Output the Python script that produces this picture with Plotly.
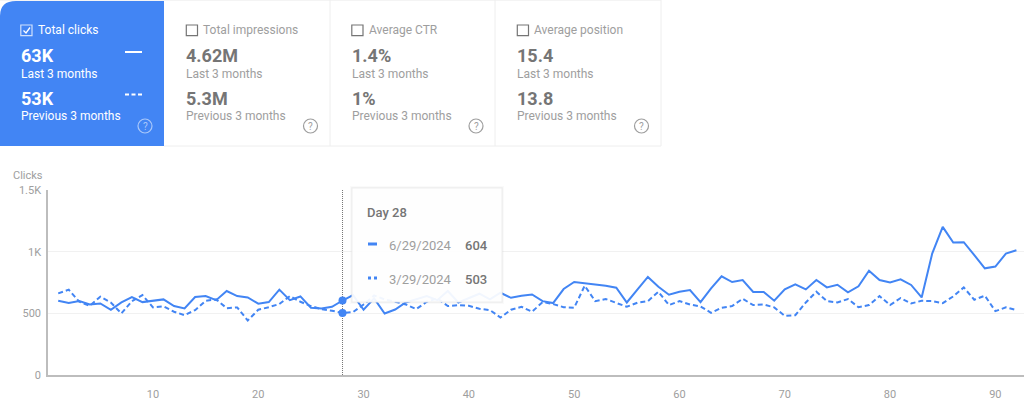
import plotly.graph_objects as go

# Day numbers on the x axis
days = list(range(1, 93))

# Clicks per day
last_3_months = [
    602, 583, 599, 572, 580, 529, 588, 632, 591, 605,
    613, 559, 540, 632, 640, 607, 681, 640, 629, 578,
    591, 692, 607, 637, 545, 540, 553, 604, 648, 529,
    621, 499, 531, 588, 615, 640, 607, 681, 588, 621,
    659, 613, 667, 626, 643, 653, 599, 583, 697, 754,
    743, 738, 724, 708, 588, 692, 795, 716, 651, 675,
    689, 591, 702, 800, 754, 770, 673, 673, 602, 694,
    735, 694, 770, 710, 732, 670, 719, 846, 770, 751,
    776, 730, 629, 984, 1201, 1074, 1077, 971, 865, 879,
    984, 1011,
]
previous_3_months = [
    662, 692, 594, 561, 635, 588, 499, 599, 648, 548,
    556, 513, 485, 526, 602, 613, 542, 548, 442, 529,
    550, 575, 640, 594, 559, 534, 521, 503, 510, 572,
    645, 613, 594, 572, 534, 594, 621, 559, 567, 561,
    537, 526, 466, 529, 553, 513, 591, 575, 550, 545,
    724, 599, 616, 586, 553, 586, 599, 675, 567, 599,
    572, 556, 504, 545, 559, 618, 567, 572, 548, 480,
    485, 588, 675, 599, 588, 616, 550, 567, 640, 567,
    624, 580, 602, 599, 583, 637, 710, 610, 643, 518,
    548, 526,
]

x_ticks = [10, 20, 30, 40, 50, 60, 70, 80, 90]
y_ticks = [0, 500, 1000, 1500]
y_tick_labels = ['0', '500', '1K', '1.5K']

# Summary cards
card_titles = ['Total clicks', 'Total impressions', 'Average CTR', 'Average position']
card_last = ['63K', '4.62M', '1.4%', '15.4']
card_previous = ['53K', '5.3M', '1%', '13.8']
card_left = [0, 165.5, 331, 496.5]
card_right = [164, 330, 495, 661]

hover_day = 28
hover_last_date = '6/29/2024'
hover_previous_date = '3/29/2024'

BLUE = '#4285f4'
GREY = '#757575'
LIGHT = '#9e9e9e'
FONT = 'Roboto'

WIDTH, HEIGHT = 1024, 406
LEFT, RIGHT, TOP, BOTTOM = 48, 0, 190, 31


# Page pixels to paper coordinates, for the cards and the tooltip
def px(x):
    return (x - LEFT) / (WIDTH - LEFT - RIGHT)


def py(y):
    return 1 - (y - TOP) / (HEIGHT - TOP - BOTTOM)


def add_text(fig, x, y, text, size=12, color=GREY, weight='normal', anchor='left'):
    fig.add_annotation(
        x=px(x), y=py(y), xref='paper', yref='paper', text=text, showarrow=False,
        xanchor=anchor, yanchor='middle',
        font=dict(family=FONT, size=size, color=color, weight=weight),
    )


def add_box(fig, x0, y0, x1, y1, fill='rgba(0,0,0,0)', line=None, width=1, layer='above'):
    fig.add_shape(
        type='rect', xref='paper', yref='paper', layer=layer,
        x0=px(x0), x1=px(x1), y0=py(y0), y1=py(y1), fillcolor=fill,
        line=dict(color=line or 'rgba(0,0,0,0)', width=width if line else 0),
    )


def add_line(fig, x0, y0, x1, y1, color, width=1.5, dash='solid'):
    fig.add_shape(
        type='line', xref='paper', yref='paper', layer='above',
        x0=px(x0), x1=px(x1), y0=py(y0), y1=py(y1),
        line=dict(color=color, width=width, dash=dash),
    )


fig = go.Figure()

fig.add_trace(go.Scatter(
    x=days, y=last_3_months, mode='lines', name='Last 3 months',
    line=dict(color=BLUE, width=2), cliponaxis=False,
))
fig.add_trace(go.Scatter(
    x=days, y=previous_3_months, mode='lines', name='Previous 3 months',
    line=dict(color=BLUE, width=2, dash='5px,3px'), cliponaxis=False,
))
# Hover dots on both lines
fig.add_trace(go.Scatter(
    x=[hover_day, hover_day],
    y=[last_3_months[hover_day - 1], previous_3_months[hover_day - 1]],
    mode='markers', marker=dict(color=BLUE, size=8), cliponaxis=False,
))

# Card strip
add_box(fig, 0, 0, 661, 146, fill='#ffffff', layer='below')
add_line(fig, 0, 0.5, 661, 0.5, '#f4f4f4', 1)
add_line(fig, 164, 146, 661, 146, '#eeeeee', 1)
for edge in card_right[1:]:
    add_line(fig, edge, 0, edge, 146, '#eeeeee', 1)
# Selected card with its rounded corner
fig.add_shape(
    type='path', xref='paper', yref='paper', layer='above', fillcolor=BLUE, line=dict(width=0),
    path=(f'M {px(0)} {py(146)} L {px(0)} {py(16)} Q {px(0)} {py(1)} {px(16)} {py(1)} '
          f'L {px(164)} {py(1)} L {px(164)} {py(146)} Z'),
)

for i, title in enumerate(card_titles):
    x0 = card_left[i]
    selected = i == 0
    main = '#ffffff' if selected else GREY
    sub = '#ffffff' if selected else LIGHT
    box_color = 'rgba(255,255,255,0.75)' if selected else GREY
    add_box(fig, x0 + 20.8, 25, x0 + 32, 35.7, line=box_color, width=1.2)
    add_text(fig, x0 + 35.5, 30, title, 12, '#ffffff' if selected else LIGHT)
    add_text(fig, x0 + 18.5, 56, card_last[i], 18, main, weight='bold')
    add_text(fig, x0 + 18.5, 73.5, 'Last 3 months', 12, sub)
    add_text(fig, x0 + 18.5, 98.5, card_previous[i], 18, main, weight='bold')
    add_text(fig, x0 + 18.5, 116, 'Previous 3 months', 12, sub)
    # Help icon
    help_color = 'rgba(255,255,255,0.55)' if selected else LIGHT
    fig.add_shape(
        type='circle', xref='paper', yref='paper', layer='above',
        x0=px(x0 + 138), x1=px(x0 + 152), y0=py(119), y1=py(133),
        line=dict(color=help_color, width=1.2),
    )
    add_text(fig, x0 + 145, 126, '?', 10, help_color, anchor='center')

# Tick inside the selected checkbox
fig.add_shape(
    type='path', xref='paper', yref='paper', layer='above', line=dict(color='#ffffff', width=1.3),
    path=f'M {px(23.5)} {py(30.5)} L {px(26)} {py(33)} L {px(30)} {py(27.5)}',
)
add_line(fig, 125, 52, 142, 52, '#ffffff', 2)
add_line(fig, 125, 94.5, 142, 94.5, '#ffffff', 2, '4px,2.5px')

add_text(fig, 45, 175, 'Clicks', 11, LIGHT, anchor='right')

# Hover line, under the dots
fig.add_shape(
    type='line', xref='x', yref='paper', layer='below', x0=hover_day, x1=hover_day, y0=0, y1=1,
    line=dict(color='#757575', width=1, dash='1px,1px'),
)

# Tooltip, soft shadow first
add_box(fig, 350, 186, 504, 304, fill='rgba(0,0,0,0.02)')
add_box(fig, 351, 187, 503, 303, fill='rgba(0,0,0,0.03)')
add_box(fig, 352, 188, 502, 302, fill='rgba(255,255,255,0.93)', line='#eeeeee', width=1)
add_text(fig, 364.5, 212.5, 'Day 28', 13, GREY, weight=500)
add_line(fig, 368, 244, 377, 244, BLUE, 3)
add_line(fig, 368, 278, 377, 278, BLUE, 3, '3px,3px')
add_text(fig, 386.5, 245.5, hover_last_date, 13, LIGHT)
add_text(fig, 462.5, 245.5, str(last_3_months[hover_day - 1]), 13, GREY, weight=500)
add_text(fig, 386.5, 279, hover_previous_date, 13, LIGHT)
add_text(fig, 462.5, 279, str(previous_3_months[hover_day - 1]), 13, GREY, weight=500)

fig.update_layout(
    width=WIDTH,
    height=HEIGHT,
    margin=dict(l=LEFT, r=RIGHT, t=TOP, b=BOTTOM, pad=0),
    paper_bgcolor='#ffffff',
    plot_bgcolor='#ffffff',
    showlegend=False,
    font=dict(family=FONT, size=11, color=LIGHT),
    xaxis=dict(
        range=[0.03, 92.72], tickvals=x_ticks, showgrid=False, zeroline=False,
        showline=True, linecolor='#bdbdbd', linewidth=1.5, ticks='', ticklen=0,
        ticklabelstandoff=8,
        tickfont=dict(family=FONT, size=11, color=LIGHT),
    ),
    yaxis=dict(
        range=[0, 1500], tickvals=y_ticks, ticktext=y_tick_labels,
        showgrid=True, gridcolor='#f1f1f1', gridwidth=1, zeroline=False,
        showline=True, linecolor='#bdbdbd', linewidth=1.5, ticks='',
        ticklabelstandoff=3,
        tickfont=dict(family=FONT, size=11, color=LIGHT),
    ),
)

fig.write_html('out.html', config={'displayModeBar': False},
               post_script="document.body.style.margin='0';")
